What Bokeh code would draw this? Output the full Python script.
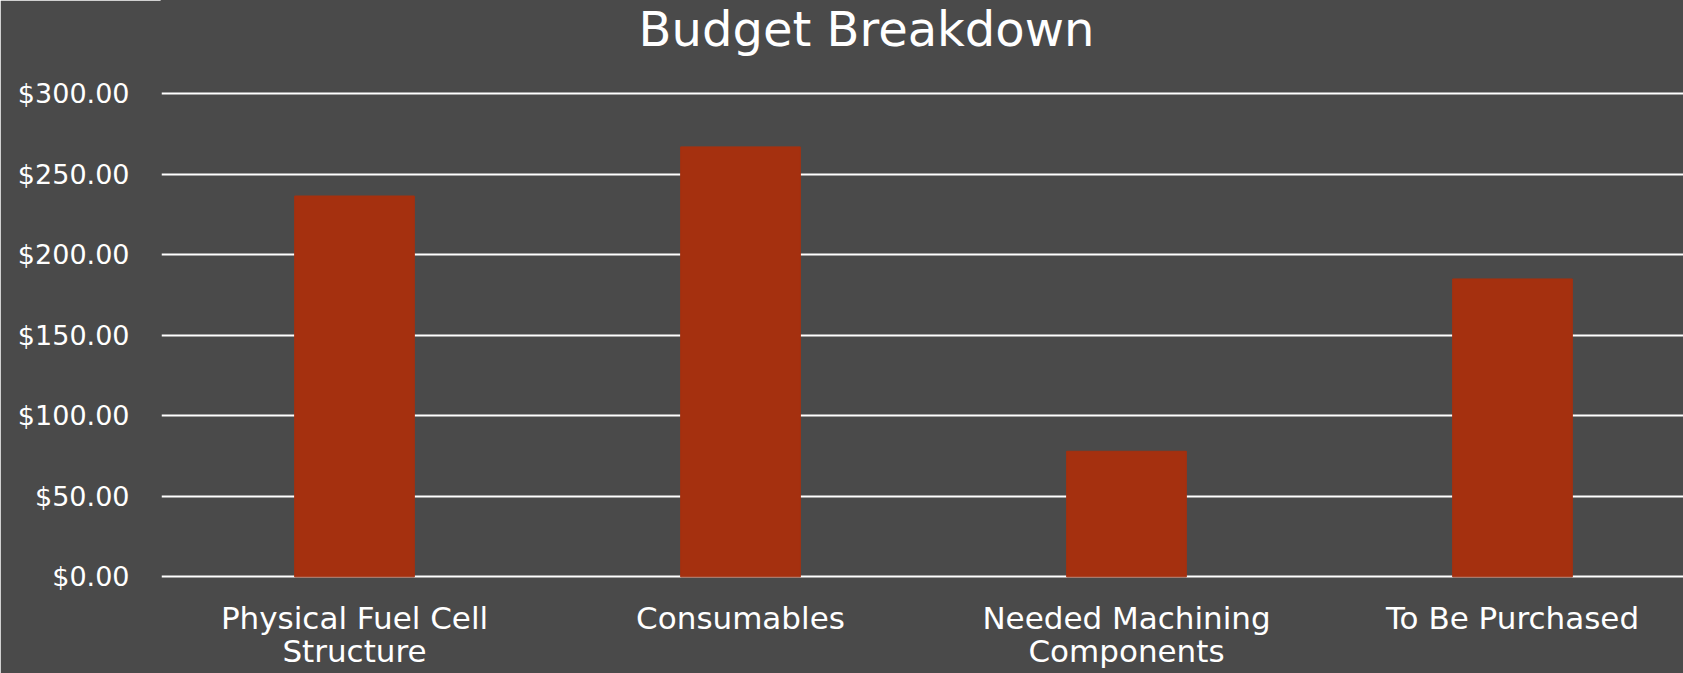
from bokeh.plotting import figure
from bokeh.models import Range1d, FixedTicker, NumeralTickFormatter, ColumnDataSource, Label
from bokeh.core.properties import value
from bokeh.embed import file_html
from bokeh.resources import INLINE

title_text = "Budget Breakdown"
categories = ["Physical Fuel Cell\nStructure", "Consumables", "Needed Machining\nComponents", "To Be Purchased"]
values = [236.5, 267.0, 78.0, 185.0]
y_ticks = [0, 50, 100, 150, 200, 250, 300]

xpos = [i + 0.5 for i in range(len(categories))]
src = ColumnDataSource(dict(x=xpos, top=values, label=categories, zero=[0] * len(categories)))

FONT = "DejaVu Sans"
TEXT = "#ffffff"
BG = "#4a4a4a"

p = figure(width=1683, height=673, output_backend="svg", toolbar_location=None,
           x_range=Range1d(0, 3.943), y_range=Range1d(-60, 357.9),
           x_axis_location=None,
           min_border_left=161, min_border_right=0, min_border_top=0, min_border_bottom=0)
p.background_fill_color = BG
p.border_fill_color = BG
p.outline_line_color = BG
p.outline_line_width = 2

p.vbar(x="x", top="top", width=0.31, bottom=0, source=src, color="#a5300f")

p.xgrid.grid_line_color = None
p.ygrid.grid_line_color = "#ffffff"
p.ygrid.grid_line_width = 2
p.ygrid.ticker = FixedTicker(ticks=y_ticks)

p.yaxis.ticker = FixedTicker(ticks=y_ticks)
p.yaxis.formatter = NumeralTickFormatter(format="$0,0.00")
p.yaxis.axis_line_color = None
p.yaxis.major_tick_line_color = None
p.yaxis.minor_tick_line_color = None
p.yaxis.major_label_standoff = 26
p.yaxis.major_label_text_font = FONT
p.yaxis.major_label_text_font_size = "27px"
p.yaxis.major_label_text_color = TEXT

p.text(x="x", y="zero", text="label", source=src, y_offset=23,
       text_align="center", text_baseline="top",
       text_font=value(FONT), text_font_size="31px", text_color=TEXT,
       text_line_height=0.92)

title = Label(x=705, y=645, x_units="screen", y_units="screen", text=title_text,
              text_align="center", text_baseline="middle",
              text_font=FONT, text_font_size="48px", text_color=TEXT)
p.add_layout(title)

open("out.html", "w").write(file_html(p, INLINE))
